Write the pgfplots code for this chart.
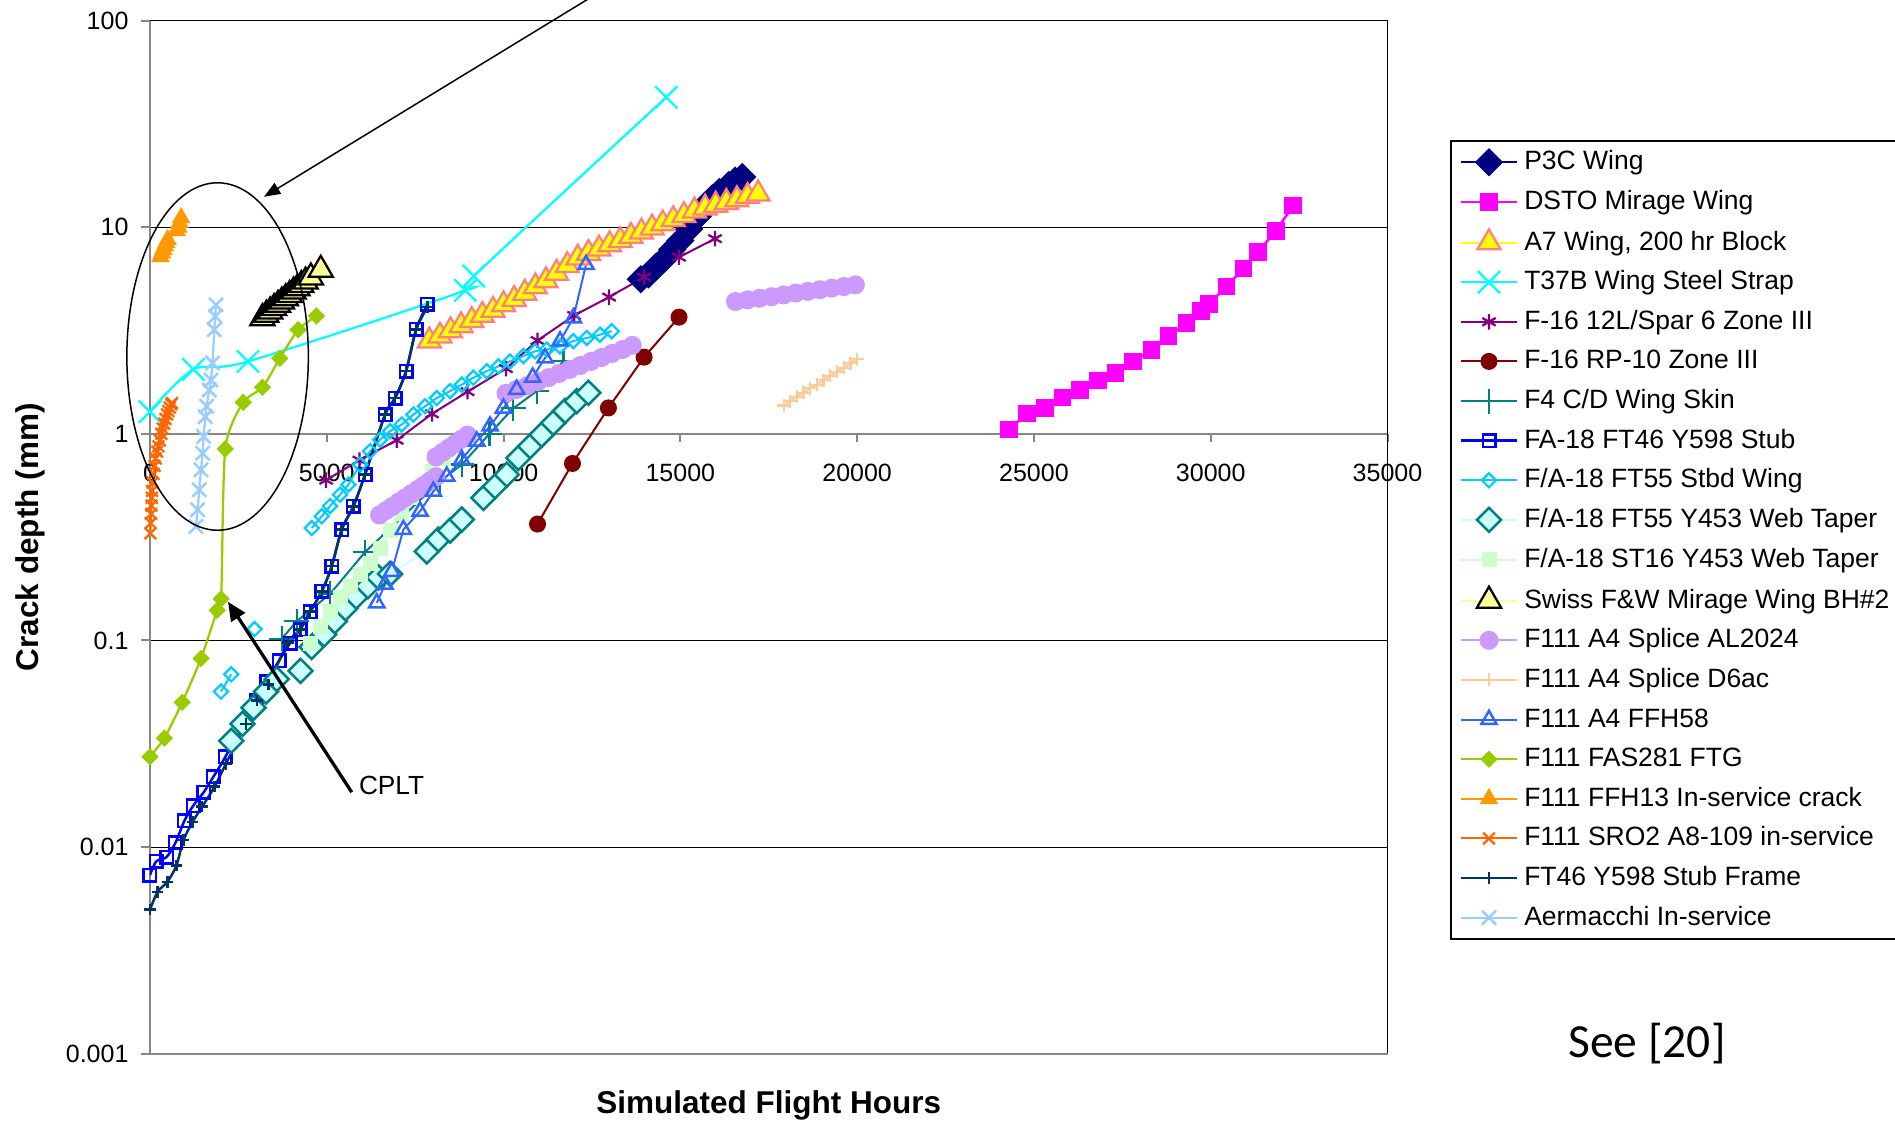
\documentclass[border=0pt]{standalone}
\usepackage{pgfplots}
\pgfplotsset{compat=1.18}
\usepackage{fontspec}
\setmainfont{Liberation Sans}
\newfontfamily\calibri{Carlito}
\usetikzlibrary{arrows.meta}
\definecolor{axisgray}{HTML}{868686}
\definecolor{cP3C}{HTML}{000080}
\definecolor{cDSTO}{HTML}{FF00FF}
\definecolor{cA7}{HTML}{FFFF00}
\definecolor{cA7e}{HTML}{FF8080}
\definecolor{cT37}{HTML}{00FFFF}
\definecolor{cF16a}{HTML}{800080}
\definecolor{cF16b}{HTML}{800000}
\definecolor{cF4}{HTML}{008080}
\definecolor{cFT46}{HTML}{0000FF}
\definecolor{cFT55}{HTML}{00CCFF}
\definecolor{cWebT}{HTML}{CCFFFF}
\definecolor{cST16}{HTML}{CCFFCC}
\definecolor{cSwiss}{HTML}{FFFF99}
\definecolor{cAL}{HTML}{CC99FF}
\definecolor{cD6}{HTML}{FFCC99}
\definecolor{cFFH58}{HTML}{3366FF}
\definecolor{cFAS}{HTML}{99CC00}
\definecolor{cFFH13}{HTML}{FF9900}
\definecolor{cSRO}{HTML}{FF6600}
\definecolor{cFrame}{HTML}{003366}
\definecolor{cAer}{HTML}{99CCFF}
\begin{document}
\begin{tikzpicture}
\begin{axis}[
  at={(0pt,0pt)}, anchor=south west,
  scale only axis, width=495pt, height=413.3pt,
  xmin=0, xmax=35000, ymin=0.001, ymax=100, ymode=log,
  axis x line=middle, axis y line=left,
  axis line style={-, draw=axisgray, line width=0.8pt},
  hide obscured x ticks=false, hide obscured y ticks=false,
  xtick={0,5000,10000,15000,20000,25000,30000,35000},
  xticklabels={0,5000,10000,15000,20000,25000,30000,35000},
  scaled x ticks=false,
  ytick={0.001,0.01,0.1,1,10,100},
  yticklabels={0.001,0.01,0.1,1,10,100},
  yminorticks=false, xminorticks=false,
  ymajorgrids, major grid style={black, line width=0.5pt},
  tick align=outside, major tick length=3.4pt,
  tick style={axisgray, line width=0.8pt},
  tick label style={font=\fontsize{10}{12}\selectfont},
  /pgf/number format/assume math mode=true,
  xticklabel style={yshift=-5pt},
  yticklabel style={xshift=-1.7pt},
  legend cell align=left,
  legend image code/.code={\draw[mark repeat=2,mark phase=2] plot coordinates {(0pt,0pt)(11.2pt,0pt)(22.4pt,0pt)};},
  legend style={at={(1.0505,0.8843)}, anchor=north west, draw=black, line width=0.6pt,
    fill=white, font=\fontsize{10.6}{12}\selectfont, inner xsep=3.6pt, inner ysep=3.5pt,
    row sep=5.85pt, nodes={inner sep=0pt, text height=8pt, text depth=2pt},
    /tikz/every odd column/.append style={column sep=2.4pt}},
]
% P3C Wing
\addplot[color=cP3C, line width=0.8pt, mark=square*, mark size=3.6pt, mark options={rotate=45}] coordinates {
(13880,5.6)(14100,5.9)(14300,6.4)(14500,6.9)(14770,7.8)(15000,8.6)(15250,9.8)(15500,11.3)(15710,12.8)(15900,13.8)(16100,14.8)(16370,16.0)(16550,16.8)(16750,17.5)};
\addlegendentry{P3C Wing}
% DSTO Mirage Wing
\addplot[color=cDSTO, line width=1pt, mark=square*, mark size=3pt] coordinates {
(24300,1.049)(24804,1.254)(25309,1.337)(25813,1.50)(26305,1.63)(26810,1.81)(27314,1.97)(27806,2.24)(28323,2.54)(28802,2.97)(29319,3.43)(29723,3.94)(29950,4.24)(30441,5.17)(30921,6.30)(31337,7.57)(31841,9.61)(32333,12.7)};
\addlegendentry{DSTO Mirage Wing}
% A7 Wing
\addplot[draw=cA7, line width=0.8pt, mark=triangle*, mark size=5.3pt, mark options={fill=cA7, draw=cA7e, line width=0.9pt}] coordinates {
(7900,2.82)(8200,2.98)(8500,3.16)(8800,3.34)(9100,3.54)(9400,3.75)(9700,3.97)(10000,4.22)(10300,4.48)(10600,4.80)(10900,5.15)(11200,5.52)(11500,6.00)(11800,6.53)(12100,7.10)(12400,7.48)(12700,7.85)(13000,8.24)(13300,8.63)(13600,9.05)(13900,9.48)(14200,9.93)(14500,10.4)(14800,10.9)(15100,11.4)(15400,12.0)(15700,12.4)(16000,12.8)(16300,13.2)(16600,13.6)(16900,14.1)(17200,14.5)};
\addlegendentry{A7 Wing, 200 hr Block}
% T37B
\addplot[color=cT37, line width=0.9pt, smooth, mark=x, mark size=6.3pt, mark options={line width=0.9pt}] coordinates {
(0,1.28)(1230,2.05)(2770,2.24)(8920,4.95)(9160,5.8)(14600,42.5)};
\addlegendentry{T37B Wing Steel Strap}
% F-16 12L
\addplot[color=cF16a, line width=0.8pt, mark=asterisk, mark size=3.1pt, mark options={line width=0.9pt}] coordinates {
(4981,0.597)(5923,0.746)(6977,0.932)(7975,1.25)(8983,1.60)(10066,2.07)(10960,2.83)(11996,3.74)(12985,4.59)(13974,5.73)(14963,7.16)(15980,8.8)};
\addlegendentry{F-16 12L/Spar 6 Zone III}
% F-16 RP-10
\addplot[color=cF16b, line width=0.8pt, mark=*, mark size=3pt] coordinates {
(10960,0.366)(11948,0.719)(12965,1.335)(13974,2.35)(14963,3.67)};
\addlegendentry{F-16 RP-10 Zone III}
% F4 C/D
\addplot[color=cF4, line width=0.8pt, mark=+, mark size=5pt, mark options={line width=0.9pt}] coordinates {
(3727,0.102)(4151,0.124)(5093,0.168)(6083,0.268)(8204,0.59)(8817,0.71)(9600,1.0)(10277,1.33)(10939,1.61)(11692,2.25)};
\addlegendentry{F4 C/D Wing Skin}
% FA-18 FT46 Y598 Stub
\addplot[color=cFT46, line width=1pt, smooth, mark=square, mark size=2.5pt, mark options={line width=1pt}] coordinates {
(0,0.00733)(177,0.00853)(467,0.00895)(720,0.0105)(972,0.0134)(1225,0.0159)(1515,0.0184)(1793,0.0219)(2134,0.0274)(3000,0.051)(3300,0.063)(3650,0.08)(3962,0.097)(4245,0.113)(4528,0.138)(4859,0.173)(5141,0.229)(5424,0.344)(5753,0.446)(6083,0.635)(6649,1.24)(6932,1.49)(7243,2.01)(7526,3.20)(7846,4.23)};
\addlegendentry{FA-18 FT46 Y598 Stub}
% F/A-18 FT55 Stbd Wing
\addplot[color=cFT55, line width=0.8pt, mark=square, mark size=2pt, mark options={rotate=45, line width=0.9pt}] coordinates {
(4575,0.350)(4858,0.399)(5093,0.447)(5376,0.508)(5611,0.568)(5942,0.710)(6225,0.824)(6508,0.938)(6790,1.03)(7120,1.11)(7450,1.24)(7780,1.36)(8110,1.49)(8487,1.61)(8817,1.73)(9146,1.87)(9524,2.01)(9853,2.12)(10183,2.24)(10560,2.38)(10890,2.51)(11220,2.56)(11597,2.65)(11974,2.81)(12352,2.91)(12729,3.02)(13059,3.14)};
\addlegendentry{F/A-18 FT55 Stbd Wing}
\addplot[forget plot, color=cFT55, line width=0.8pt, mark=square, mark size=2pt, mark options={rotate=45, line width=0.9pt}] coordinates {(2008,0.0566)(2298,0.0686)};
\addplot[forget plot, color=cFT55, line width=0.8pt, mark=square, mark size=2pt, mark options={rotate=45, line width=0.9pt}] coordinates {(2955,0.1136)};
% F/A-18 FT55 Y453 Web Taper
\addplot[draw=cWebT, line width=0.8pt, mark=square*, mark size=3.4pt, mark options={rotate=45, fill=cWebT, draw=cF4, line width=1pt}] coordinates {
(2298,0.0327)(2614,0.0395)(2929,0.0473)(3283,0.0566)(3586,0.065)(4255,0.0713)(4571,0.093)(4924,0.107)(5227,0.124)(5530,0.143)(5833,0.163)(6162,0.183)(6465,0.202)(6790,0.21)(7828,0.27)(8157,0.308)(8487,0.34)(8817,0.385)(9430,0.49)(9760,0.557)(10090,0.635)(10419,0.764)(10749,0.871)(11079,0.99)(11408,1.13)(11738,1.29)(12068,1.44)(12398,1.58)};
\addlegendentry{F/A-18 FT55 Y453 Web Taper}
% F/A-18 ST16
\addplot[color=cST16, line width=0.8pt, mark=square*, mark size=2.6pt] coordinates {
(4528,0.097)(4811,0.117)(5093,0.138)(5376,0.161)(5659,0.183)(5942,0.208)(6225,0.237)(6510,0.28)(6800,0.34)(7100,0.41)(7400,0.49)(7700,0.57)(8000,0.66)(8300,0.76)(8580,0.89)};
\addlegendentry{F/A-18 ST16 Y453 Web Taper}
% Swiss
\addplot[draw=cSwiss, line width=0.8pt, mark=triangle*, mark size=5.6pt, mark options={fill=cSwiss, draw=black, line width=0.9pt}] coordinates {
(3180,3.63)(3290,3.77)(3400,3.91)(3510,4.06)(3620,4.21)(3730,4.37)(3840,4.53)(3950,4.70)(4060,4.88)(4170,5.06)(4280,5.25)(4400,5.46)(4550,5.71)(4830,6.22)};
\addlegendentry{Swiss F\&W Mirage Wing BH\#2}
% F111 A4 Splice AL2024
\addplot[color=cAL, line width=0.8pt, mark=*, mark size=3.4pt] coordinates {
(6490,0.405)(6670,0.425)(6850,0.445)(7030,0.467)(7210,0.489)(7390,0.513)(7570,0.538)(7750,0.564)(7920,0.592)(8090,0.620)};
\addlegendentry{F111 A4 Splice AL2024}
\addplot[forget plot, color=cAL, line width=0.8pt, mark=*, mark size=3.4pt] coordinates {
(8090,0.774)(8270,0.813)(8450,0.853)(8630,0.895)(8800,0.940)(8980,0.986)};
\addplot[forget plot, color=cAL, line width=0.8pt, mark=*, mark size=3.4pt] coordinates {
(10070,1.57)(10370,1.64)(10670,1.71)(10970,1.79)(11270,1.87)(11570,1.96)(11870,2.05)(12170,2.14)(12470,2.24)(12770,2.34)(13070,2.45)(13370,2.56)(13640,2.68)};
\addplot[forget plot, color=cAL, line width=0.8pt, mark=*, mark size=3.4pt] coordinates {
(16560,4.37)(16900,4.45)(17240,4.53)(17580,4.61)(17920,4.70)(18260,4.80)(18600,4.89)(18940,4.98)(19280,5.07)(19620,5.16)(19950,5.26)};
% F111 A4 Splice D6ac
\addplot[color=cD6, line width=0.8pt, mark=+, mark size=2.6pt, mark options={line width=0.9pt}] coordinates {
(17925,1.37)(18100,1.44)(18290,1.51)(18480,1.58)(18670,1.66)(18860,1.73)(19050,1.82)(19240,1.91)(19430,2.00)(19620,2.09)(19810,2.20)(20000,2.30)};
\addlegendentry{F111 A4 Splice D6ac}
% F111 A4 FFH58
\addplot[color=cFFH58, line width=0.8pt, mark=triangle, mark size=3.5pt, mark options={line width=1pt}] coordinates {
(6414,0.152)(6649,0.187)(6838,0.216)(7166,0.344)(7638,0.422)(8015,0.527)(8393,0.623)(8817,0.751)(9241,0.921)(9618,1.09)(9995,1.33)(10372,1.64)(10824,1.88)(11173,2.33)(11597,2.81)(11974,3.64)(12333,6.6)};
\addlegendentry{F111 A4 FFH58}
% F111 FAS281 FTG
\addplot[color=cFAS, line width=0.9pt, smooth, tension=0.4, mark=square*, mark size=2pt, mark options={rotate=45}] coordinates {
(0,0.0274)(405,0.0337)(911,0.0502)(1443,0.0819)(1899,0.140)(2013,0.159)(2128,0.846)(2637,1.42)(3183,1.68)(3672,2.32)(4190,3.19)(4708,3.72)};
\addlegendentry{F111 FAS281 FTG}
% F111 FFH13
\addplot[color=cFFH13, line width=0.8pt, mark=triangle*, mark size=3.5pt] coordinates {
(300,7.2)(340,7.5)(380,7.8)(420,8.1)(460,8.4)(500,8.7)(760,9.6)(800,10.0)(840,10.5)(880,11.1)};
\addlegendentry{F111 FFH13 In-service crack}
% F111 SRO2
\addplot[color=cSRO, line width=0.8pt, mark=x, mark size=3.3pt, mark options={line width=0.9pt}] coordinates {
(10,0.33)(20,0.37)(30,0.41)(40,0.45)(50,0.49)(60,0.53)(75,0.58)(100,0.64)(130,0.70)(160,0.76)(200,0.82)(240,0.87)(280,0.93)(320,1.0)(360,1.06)(400,1.12)(440,1.18)(480,1.24)(520,1.29)(560,1.34)(600,1.39)(620,1.41)};
\addlegendentry{F111 SRO2 A8-109 in-service}
% FT46 Y598 Stub Frame
\addplot[color=cFrame, line width=1pt, smooth, mark=+, mark size=2.3pt, mark options={line width=1pt}] coordinates {
(0,0.00498)(215,0.00608)(492,0.0068)(745,0.00813)(947,0.0108)(1199,0.0132)(1477,0.0157)(1831,0.0197)(2146,0.0253)(2715,0.0395)(3030,0.0512)(3346,0.0612)(3900,0.098)(4250,0.113)(4530,0.138)(4860,0.173)(5140,0.229)(5420,0.344)(5750,0.446)(6080,0.635)(6650,1.24)(6930,1.49)(7240,2.01)(7530,3.20)(7846,4.1)};
\addlegendentry{FT46 Y598 Stub Frame}
% Aermacchi
\addplot[color=cAer, line width=0.9pt, mark=x, mark size=4pt, mark options={line width=1pt}] coordinates {
(1299,0.356)(1347,0.429)(1394,0.536)(1441,0.669)(1488,0.806)(1516,0.971)(1563,1.21)(1601,1.36)(1676,1.63)(1723,1.82)(1770,2.2)(1817,3.19)(1846,3.70)(1864,4.21)};
\addlegendentry{Aermacchi In-service}
\end{axis}
% frame lines
\draw[black, line width=0.5pt] (0pt,413.3pt) -- (495pt,413.3pt) -- (495pt,0pt);
\draw[axisgray, line width=0.8pt] (0pt,0pt) -- (495pt,0pt);
% annotations
\draw[black, line width=0.6pt] (27.04pt,278.9pt) ellipse [x radius=36.3pt, y radius=69.5pt];
\draw[black, line width=0.6pt, -{Triangle[length=6.5pt,width=5pt]}] (200pt,437pt) -- (45.6pt,342.8pt);
\draw[black, line width=1.3pt, -{Triangle[length=7.5pt,width=6.5pt]}] (80.7pt,104.6pt) -- (31.2pt,180.8pt);
\node[anchor=west, inner sep=0pt, font=\fontsize{10.5}{12}\selectfont] at (83.4pt,107.5pt) {CPLT};
\node[rotate=90, font=\bfseries\fontsize{12.6}{14}\selectfont] at (-48pt,206.6pt) {Crack depth (mm)};
\node[font=\bfseries\fontsize{12.6}{14}\selectfont] at (247.5pt,-20.5pt) {Simulated Flight Hours};
\node[font=\calibri\fontsize{19}{22}\selectfont] at (598.8pt,4pt) {See [20]};
\pgfresetboundingbox
\useasboundingbox (-60pt,-27.28pt) rectangle (698pt,421.52pt);
\end{tikzpicture}
\end{document}
